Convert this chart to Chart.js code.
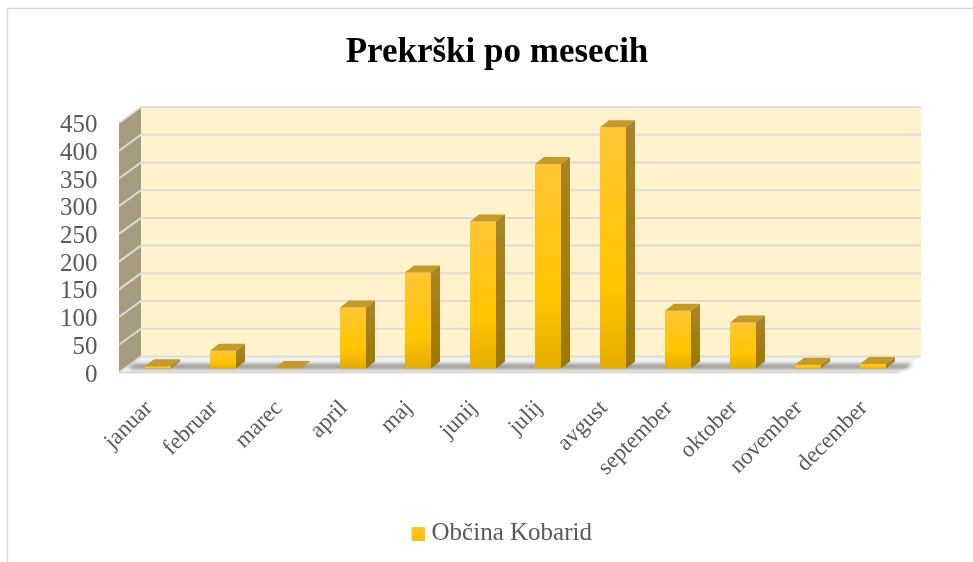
<!DOCTYPE html>
<html><head><meta charset="utf-8">
<style>html,body{margin:0;padding:0;background:#fff}#w{position:absolute;left:0;top:0;width:973px;height:562px}</style>
<script src="https://cdn.jsdelivr.net/npm/chart.js@4/dist/chart.umd.min.js"></script>
</head><body><div id="w"><canvas id="c" width="973" height="562"></canvas></div>
<script>
const categories=['januar','februar','marec','april','maj','junij','julij','avgust','september','oktober','november','december'];
const seriesName='Občina Kobarid';
const values=[4,32,1,110,173,265,369,435,104,83,7,8];
const yMax=450, yStep=50;
const titleText='Prekrški po mesecih';
const DX=22,DY=16,BDX=9,BDY=7,LIFT=2.5;
const FONT='"Liberation Serif"';

const scene={id:'scene',
 beforeDatasetsDraw(ch){
  const g=ch.ctx,a=ch.chartArea,y=ch.scales.y;
  const L=a.left-6.5,R=a.right-6.5,B=a.bottom-LIFT,T=a.top-LIFT;
  g.save();
  g.fillStyle='#FFF2CC';g.fillRect(L+DX,T-DY,R-L,B-T);
  g.fillStyle='#A59B7E';
  g.beginPath();g.moveTo(L,T);g.lineTo(L+DX,T-DY);g.lineTo(L+DX,B-DY);g.lineTo(L,B);g.closePath();g.fill();
  g.fillStyle='#F2F2F2';
  g.beginPath();g.moveTo(L,B);g.lineTo(L+DX,B-DY);g.lineTo(R+DX,B-DY);g.lineTo(R,B);g.closePath();g.fill();
  g.strokeStyle='#DEDCD4';g.lineWidth=2;
  y.ticks.forEach(t=>{const p=y.getPixelForValue(t.value)-LIFT;
   g.beginPath();g.moveTo(L,p);g.lineTo(L+DX,p-DY);g.lineTo(R+DX,p-DY);g.stroke();});
  g.beginPath();g.moveTo(L,B);g.lineTo(R,B);g.stroke();
  // soft shadow along the floor
  g.filter='blur(2px)';g.fillStyle='#77756F';
  g.beginPath();g.moveTo(L+9,B-4);g.lineTo(L+14,B-8);g.lineTo(R+14,B-8);g.lineTo(R+6,B-4);g.closePath();g.fill();
  g.filter='none';
  g.restore();
 },
 afterDatasetsDraw(ch){
  const g=ch.ctx,m=ch.getDatasetMeta(0);
  g.save();
  m.data.forEach(b=>{
   const l=b.x-b.width/2,r=b.x+b.width/2,t=b.y,bt=b.base;
   g.fillStyle='#C49A2B';
   g.beginPath();g.moveTo(l,t);g.lineTo(l+BDX,t-BDY);g.lineTo(r+BDX,t-BDY);g.lineTo(r,t);g.closePath();g.fill();
   const s=g.createLinearGradient(0,t,0,bt);
   s.addColorStop(0,'#A98326');s.addColorStop(1,'#9A7800');
   g.fillStyle=s;
   g.beginPath();g.moveTo(r,t);g.lineTo(r+BDX,t-BDY);g.lineTo(r+BDX,bt-BDY);g.lineTo(r,bt);g.closePath();g.fill();
  });
  g.restore();
 },
 afterDraw(ch){
  const g=ch.ctx;g.save();g.strokeStyle='#D9D9D9';g.lineWidth=1.5;
  g.beginPath();g.moveTo(7.5,562);g.lineTo(7.5,8.5);g.lineTo(973,8.5);g.stroke();g.restore();
 }};

function barFill(ctx){
 const c=ctx.chart;
 if(ctx.type!=='data'||!c.chartArea)return '#FFC000';
 const y=c.scales.yBars,top=y.getPixelForValue(ctx.parsed.y),base=y.getPixelForValue(0);
 const gr=c.ctx.createLinearGradient(0,top,0,base);
 gr.addColorStop(0,'#FFC535');gr.addColorStop(.65,'#FFC600');gr.addColorStop(1,'#E5AD00');
 return gr;
}

const swatch=document.createElement('canvas');swatch.width=28;swatch.height=14;
(()=>{const g=swatch.getContext('2d'),gr=g.createLinearGradient(0,0,0,14);
 gr.addColorStop(0,'#FFC535');gr.addColorStop(1,'#FFC200');g.fillStyle=gr;g.fillRect(15,0,13,14);})();

new Chart(document.getElementById('c'),{
 type:'bar',
 data:{labels:categories,datasets:[{label:seriesName,data:values,yAxisID:'yBars',backgroundColor:barFill,barPercentage:0.8,categoryPercentage:0.5}]},
 plugins:[scene],
 options:{responsive:false,animation:false,
  layout:{padding:{left:21,right:0,top:0,bottom:6}},
  scales:{
   x:{grid:{display:false},border:{display:false},afterFit(s){s.height=134},
      ticks:{maxRotation:45,minRotation:45,autoSkip:false,padding:12,labelOffset:-9,color:'#595959',font:{family:FONT,size:23}}},
   y:{position:'left',min:0,max:yMax,afterFit(s){s.width=104.5},
      grid:{display:false},border:{display:false},
      ticks:{stepSize:yStep,autoSkip:false,padding:20,color:'#595959',font:{family:FONT,size:25}}},
   yBars:{position:'right',min:-11.7,max:438.3,afterFit(s){s.width=67.5},
      grid:{display:false},border:{display:false},ticks:{display:false}}
  },
  plugins:{
   tooltip:{enabled:false},
   title:{display:true,text:titleText,color:'#000',font:{family:FONT,size:35,weight:'bold'},padding:{top:32,bottom:51.5}},
   legend:{display:true,position:'bottom',labels:{color:'#595959',font:{family:FONT,size:25},usePointStyle:true,pointStyleWidth:17,padding:12,
     generateLabels(ch){return [{text:seriesName,fontColor:'#595959',pointStyle:swatch,fillStyle:'#FFC31A',strokeStyle:'#FFC31A',lineWidth:0,datasetIndex:0}]}}}
  }
 }
});
</script></body></html>
